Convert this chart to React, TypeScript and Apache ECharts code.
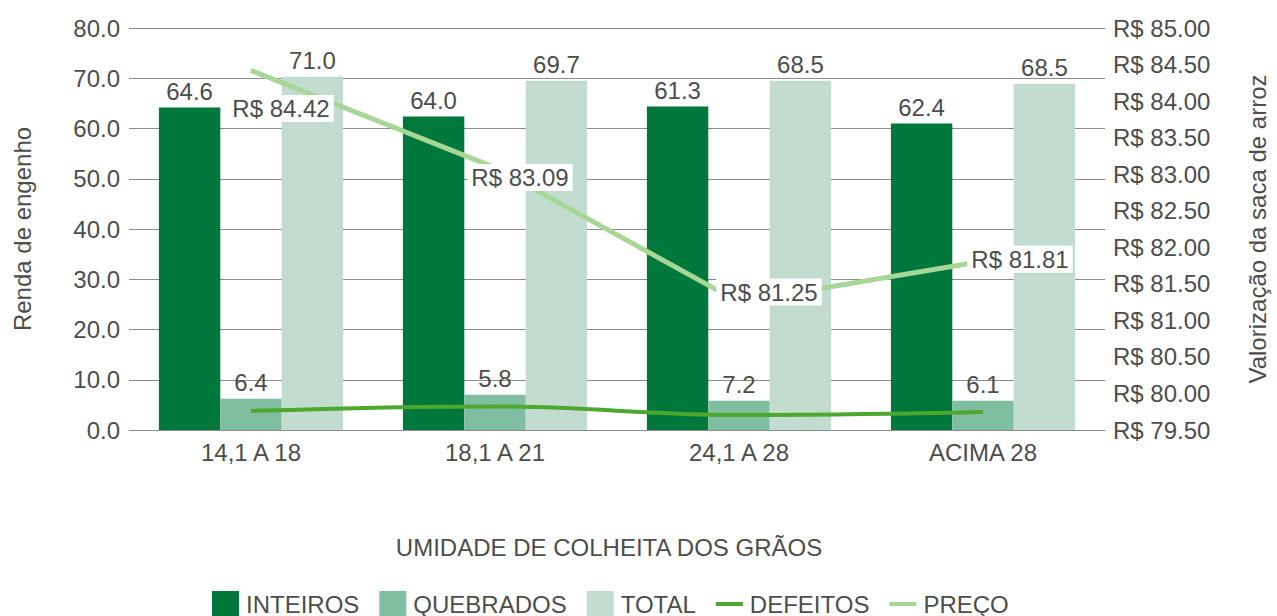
import React, { useEffect, useRef } from "react";
import * as echarts from "echarts";

const categories = ["14,1 A 18", "18,1 A 21", "24,1 A 28", "ACIMA 28"];
const inteiros = [64.2, 62.4, 64.4, 61.0];
const inteirosLabels = ["64.6", "64.0", "61.3", "62.4"];
const quebrados = [6.2, 7.0, 5.8, 5.8];
const quebradosLabels = ["6.4", "5.8", "7.2", "6.1"];
const total = [70.3, 69.5, 69.5, 68.9];
const totalLabels = ["71.0", "69.7", "68.5", "68.5"];
const defeitos = [3.8, 4.7, 3.0, 3.6];
const preco = [84.42, 83.09, 81.25, 81.81];

const leftTicks = { min: 0, max: 80, interval: 10 };
const rightTicks = { min: 79.5, max: 85, interval: 0.5 };

const FONT = "'Liberation Sans', Arial, sans-serif";
const TEXT = "#4d4d4d";
const PRICE = "#a6d796";
const DEF = "#4ea72e";
const priceLabelOffsets = [
  [30, 38],
  [25, 10],
  [30, -10],
  [37, -2],
];

export default function App() {
  const ref = useRef<HTMLDivElement>(null);
  useEffect(() => {
    document.body.style.margin = "0";
    document.documentElement.style.overflow = "hidden";
    const chart = echarts.init(ref.current!, null, { renderer: "svg" });
    const barLabel = (labels: string[]) => ({
      show: true,
      position: "top",
      distance: 4,
      color: TEXT,
      fontSize: 24,
      fontFamily: FONT,
      formatter: (p: any) => labels[p.dataIndex],
    });
    chart.setOption({
      animation: false,
      textStyle: { fontFamily: FONT, color: TEXT },
      grid: { left: 129, right: 155, top: 28, bottom: 186 },
      legend: {
        top: 586,
        left: 207,
        itemWidth: 27,
        itemHeight: 26,
        itemGap: 20,
        textStyle: { fontSize: 24, color: TEXT, fontFamily: FONT, padding: [0, 0, 0, 2] },
        data: [
          { name: "INTEIROS", icon: "rect" },
          { name: "QUEBRADOS", icon: "rect" },
          { name: "TOTAL", icon: "rect" },
          { name: "DEFEITOS", icon: "path://M0,0H27V4H0Z", itemStyle: { color: DEF } },
          { name: "PREÇO", icon: "path://M0,0H27V4H0Z", itemStyle: { color: PRICE } },
        ],
      },
      xAxis: {
        type: "category",
        data: categories,
        name: "UMIDADE DE COLHEITA DOS GRÃOS",
        nameLocation: "middle",
        nameGap: 105,
        nameTextStyle: { fontSize: 24, color: TEXT, fontFamily: FONT, padding: [0, 16, 0, 0] },
        axisLine: { show: true, lineStyle: { color: "#8c8c8c", width: 1 } },
        axisTick: { show: false },
        axisLabel: { fontSize: 24, color: TEXT, margin: 10, fontFamily: FONT },
      },
      yAxis: [
        {
          type: "value",
          ...leftTicks,
          name: "Renda de engenho",
          nameLocation: "middle",
          nameGap: 95,
          nameTextStyle: { fontSize: 24, color: TEXT, fontFamily: FONT },
          axisLine: { show: false },
          axisTick: { show: false },
          axisLabel: {
            fontSize: 24,
            color: TEXT,
            margin: 9,
            fontFamily: FONT,
            formatter: (v: number) => v.toFixed(1),
          },
          splitLine: { show: true, lineStyle: { color: "#8c8c8c", width: 1 } },
        },
        {
          type: "value",
          ...rightTicks,
          position: "right",
          name: "Valorização da saca de arroz",
          nameLocation: "middle",
          nameGap: 140,
          nameTextStyle: { fontSize: 24, color: TEXT, fontFamily: FONT },
          axisLine: { show: false },
          axisTick: { show: false },
          splitLine: { show: false },
          axisLabel: {
            fontSize: 24,
            color: TEXT,
            margin: 8,
            fontFamily: FONT,
            formatter: (v: number) => "R$ " + v.toFixed(2),
          },
        },
      ],
      series: [
        {
          name: "INTEIROS",
          type: "bar",
          data: inteiros,
          barGap: "0%",
          barCategoryGap: "24.5%",
          itemStyle: { color: "#00773b" },
          label: barLabel(inteirosLabels),
        },
        {
          name: "QUEBRADOS",
          type: "bar",
          data: quebrados,
          itemStyle: { color: "#80bea1" },
          label: barLabel(quebradosLabels),
        },
        {
          name: "TOTAL",
          type: "bar",
          data: total,
          itemStyle: { color: "#c2ddd0" },
          label: barLabel(totalLabels),
        },
        {
          name: "DEFEITOS",
          type: "line",
          data: defeitos,
          smooth: 0.4,
          symbol: "none",
          z: 5,
          itemStyle: { color: DEF },
          lineStyle: { color: DEF, width: 4 },
        },
        {
          name: "PREÇO",
          type: "line",
          yAxisIndex: 1,
          z: 6,
          symbol: "circle",
          symbolSize: 1,
          showSymbol: true,
          itemStyle: { color: PRICE },
          lineStyle: { color: PRICE, width: 5 },
          data: preco.map((v, i) => ({
            value: v,
            label: {
              show: true,
              position: "inside",
              offset: priceLabelOffsets[i],
              formatter: (p: any) => "R$ " + Number(p.value).toFixed(2),
              fontSize: 24,
              color: TEXT,
              fontFamily: FONT,
              backgroundColor: "#ffffff",
              padding: [2, 4, 1, 4],
            },
          })),
        },
      ],
    });
    return () => chart.dispose();
  }, []);
  return <div ref={ref} style={{ width: 1277, height: 616 }} />;
}
